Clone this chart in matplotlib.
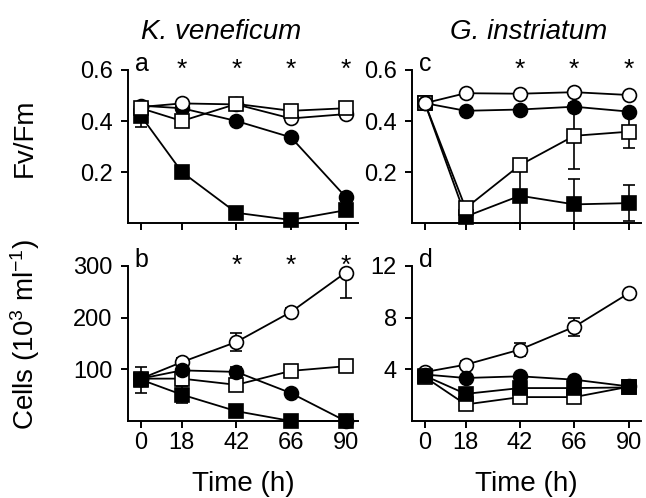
import matplotlib
matplotlib.use('Agg')
import matplotlib.pyplot as plt
import numpy as np

plt.rcParams['font.family'] = ['Liberation Sans', 'DejaVu Sans']
plt.rcParams['mathtext.default'] = 'regular'

time_h = [0, 18, 42, 66, 90]

# a: Fv/Fm, K. veneficum
a_open_sq = [0.45, 0.40, 0.467, 0.44, 0.45]
a_open_ci = [0.455, 0.469, 0.465, 0.41, 0.427]
a_fill_ci = [0.46, 0.45, 0.40, 0.336, 0.103]
a_fill_sq = [0.42, 0.20, 0.04, 0.012, 0.05]
a_fill_sq_err = [0.045, 0, 0, 0, 0]

# c: Fv/Fm, G. instriatum
c_open_ci = [0.47, 0.509, 0.507, 0.513, 0.502]
c_fill_ci = [0.47, 0.44, 0.445, 0.456, 0.437]
c_open_sq = [0.47, 0.058, 0.227, 0.342, 0.358]
c_open_sq_err = [0, 0.022, 0, 0.13, 0.065]
c_fill_sq = [0.47, 0.025, 0.107, 0.073, 0.078]
c_fill_sq_err = [0, 0, 0.107, 0.10, 0.07]

# b: cells, K. veneficum (10^3 ml-1)
b_open_ci = [82, 114, 153, 211, 287]
b_open_ci_err = [0, 8, 17, 8, 49]
b_open_sq = [82, 82, 70, 97, 106]
b_fill_ci = [82, 98, 95, 54, 0]
b_fill_ci_err = [0, 0, 10, 0, 0]
b_fill_sq = [80, 51, 19, 0, 0]
b_fill_sq_err = [25, 17, 0, 0, 0]

# d: cells, G. instriatum
d_open_ci = [3.79, 4.36, 5.53, 7.29, 9.88]
d_open_ci_err = [0, 0.3, 0.5, 0.7, 0]
d_fill_ci = [3.6, 3.33, 3.46, 3.2, 2.68]
d_fill_sq = [3.5, 2.1, 2.55, 2.55, 2.6]
d_open_sq = [3.4, 1.28, 1.85, 1.85, 2.65]
d_open_sq_err = [0, 0.35, 0, 0, 0]

stars = {'a': [18, 42, 66, 90], 'b': [42, 66, 90], 'c': [42, 66, 90], 'd': []}

styles = {'open_ci': ('o', 'white'), 'open_sq': ('s', 'white'),
          'fill_ci': ('o', 'black'), 'fill_sq': ('s', 'black')}

fs = 17     # tick labels
fl = 20     # axis labels / titles
fig = plt.figure(figsize=(6.46, 4.98), dpi=100)
W, H = 646., 498.


def make_ax(x0, x1, ytop, ybot):
    return fig.add_axes([x0/W, 1-ybot/H, (x1-x0)/W, (ybot-ytop)/H])


ax_a = make_ax(128, 358, 70, 223)
ax_c = make_ax(412, 641, 70, 223)
ax_b = make_ax(128, 358, 266, 421)
ax_d = make_ax(412, 641, 266, 421)


def draw(ax, series):
    for i, (kind, y, err) in enumerate(series):
        m, fc = styles[kind]
        if err is not None and np.any(np.array(err) > 0):
            ax.errorbar(time_h, y, yerr=err, fmt='none', ecolor='black',
                        elinewidth=1.2, capsize=4.5, capthick=1.2, zorder=2+2*i)
        ax.plot(time_h, y, color='black', lw=1.3, marker=m, ms=10 if m == 'o' else 9.5,
                mfc=fc, mec='black', mew=1.2, clip_on=False, zorder=3+2*i)


draw(ax_a, [('fill_sq', a_fill_sq, a_fill_sq_err), ('fill_ci', a_fill_ci, None),
            ('open_ci', a_open_ci, None), ('open_sq', a_open_sq, None)])
draw(ax_c, [('fill_sq', c_fill_sq, c_fill_sq_err), ('open_sq', c_open_sq, c_open_sq_err),
            ('fill_ci', c_fill_ci, None), ('open_ci', c_open_ci, None)])
draw(ax_b, [('open_ci', b_open_ci, b_open_ci_err), ('open_sq', b_open_sq, None),
            ('fill_ci', b_fill_ci, b_fill_ci_err), ('fill_sq', b_fill_sq, b_fill_sq_err)])
draw(ax_d, [('open_ci', d_open_ci, d_open_ci_err), ('open_sq', d_open_sq, d_open_sq_err),
            ('fill_sq', d_fill_sq, None), ('fill_ci', d_fill_ci, None)])

for ax, lab, ylim, yt, ytl in [
        (ax_a, 'a', (0, 0.6), [0.2, 0.4, 0.6], ['0.2', '0.4', '0.6']),
        (ax_c, 'c', (0, 0.6), [0.2, 0.4, 0.6], ['0.2', '0.4', '0.6']),
        (ax_b, 'b', (0, 300), [100, 200, 300], ['100', '200', '300']),
        (ax_d, 'd', (0, 12), [4, 8, 12], ['4', '8', '12'])]:
    ax.set_xlim(-5.7, 95.5)
    ax.set_ylim(*ylim)
    ax.set_yticks(yt)
    ax.set_yticklabels(ytl)
    ax.set_xticks(time_h)
    ax.spines['top'].set_visible(False)
    ax.spines['right'].set_visible(False)
    for s in ['left', 'bottom']:
        ax.spines[s].set_linewidth(1.4)
    ax.tick_params(direction='out', length=5, width=1.4, labelsize=fs, pad=3)
    ax.tick_params(axis='y', pad=6)
    ax.text(0.03, 1.04, lab, transform=ax.transAxes, fontsize=fs+1, va='center', ha='left')
    for t in stars[lab]:
        ax.text(t, ylim[1], '*', fontsize=fs+2, ha='center', va='center')

for ax in (ax_a, ax_c):
    ax.set_xticklabels([])
for ax in (ax_b, ax_d):
    ax.set_xlabel('Time (h)', fontsize=fl, labelpad=12)

fig.text(221/W, 1-32/H, 'K. veneficum', fontsize=fl, style='italic', ha='center', va='center')
fig.text(529/W, 1-32/H, 'G. instriatum', fontsize=fl, style='italic', ha='center', va='center')
fig.text(25/W, 1-138/H, 'Fv/Fm', fontsize=fl, rotation=90, ha='center', va='center')
fig.text(25/W, 1-334/H, 'Cells (10$^3$ ml$^{-1}$)', fontsize=fl, rotation=90,
         ha='center', va='center')

fig.savefig('out.png', dpi=100)
